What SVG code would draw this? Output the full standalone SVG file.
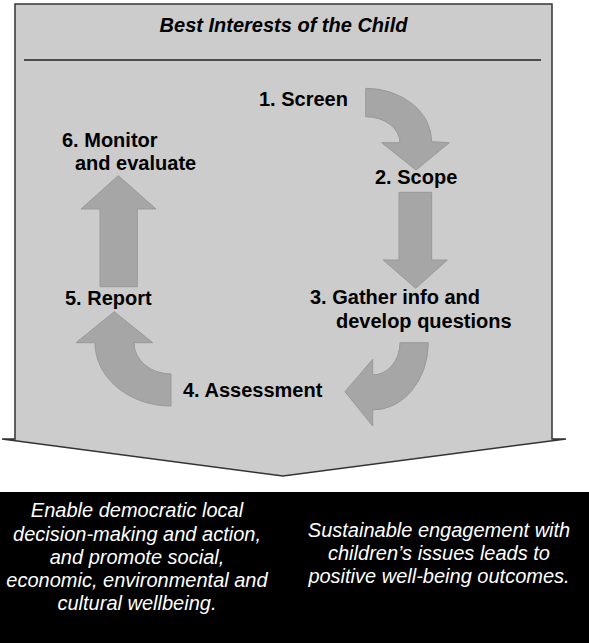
<svg xmlns="http://www.w3.org/2000/svg" width="589" height="643" viewBox="0 0 589 643">
<defs>
<style>
.lbl{font-family:"Liberation Sans",Arial,sans-serif;font-size:20px;font-weight:bold;fill:#000}
.foot{font-family:"Liberation Sans",Arial,sans-serif;font-size:20px;font-style:italic;fill:#fff;text-anchor:middle}
.arr{fill:#a6a6a6;stroke:#999;stroke-width:1}
</style>
</defs>
<rect x="0" y="0" width="589" height="643" fill="#fff"/>
<g id="frame">
<path d="M15,4 H552 V439 H566 L283,476 L2,439 H15 Z" fill="#cccccc" stroke="#333" stroke-width="1.5"/>
<line x1="24" y1="60" x2="541" y2="60" stroke="#222" stroke-width="1.5"/>
<text x="283.5" y="32" class="lbl" font-style="italic" text-anchor="middle">Best Interests of the Child</text>
</g>
<g id="connectors">
<path class="arr" d="M365.7,88.3 A66,53.4 0 0 1 431.7,141.7 L449.3,142.7 L416,170 L381.7,142.7 L400,142.7 A34.3,26 0 0 0 365.7,116.7 Z"/>
<path class="arr" d="M399,192.3 H431.7 V260 H447.3 L415.7,288.3 L383.3,260 H399 Z"/>
<path class="arr" d="M400,342.7 L428.3,342.7 A55.6,67.3 0 0 1 372.7,410 L372.7,426 L345,391.7 L372.7,359.3 L372.7,375 A27.3,32.3 0 0 0 400,342.7 Z"/>
<path class="arr" d="M171,374 L171,406 A76,63.3 0 0 1 95,342.7 L76,342.7 L114.3,311.7 L152.7,342.7 L134,342.7 A37,31.3 0 0 0 171,374 Z"/>
<path class="arr" d="M100,286.7 V209 H81 L118.3,175.7 L156,209 H137.3 V286.7 Z"/>
</g>
<g id="screen"><text x="259" y="106" class="lbl">1. Screen</text></g>
<g id="scope"><text x="375" y="184" class="lbl">2. Scope</text></g>
<g id="gather"><text x="310" y="304" class="lbl">3. Gather info and</text><text x="336" y="328" class="lbl">develop questions</text></g>
<g id="assessment"><text x="183" y="397" class="lbl">4. Assessment</text></g>
<g id="report"><text x="65" y="305" class="lbl">5. Report</text></g>
<g id="monitor"><text x="62" y="147" class="lbl">6. Monitor</text><text x="75" y="170" class="lbl">and evaluate</text></g>
<g id="outcomes">
<rect x="0" y="492" width="589" height="151" fill="#000"/>
<text class="foot"><tspan x="137" y="517">Enable democratic local</tspan><tspan x="137" y="541">decision-making and action,</tspan><tspan x="137" y="564">and promote social,</tspan><tspan x="137" y="587">economic, environmental and</tspan><tspan x="137" y="610">cultural wellbeing.</tspan></text>
<text class="foot"><tspan x="439" y="537">Sustainable engagement with</tspan><tspan x="439" y="560">children’s issues leads to</tspan><tspan x="439" y="583">positive well-being outcomes.</tspan></text>
</g>
</svg>
